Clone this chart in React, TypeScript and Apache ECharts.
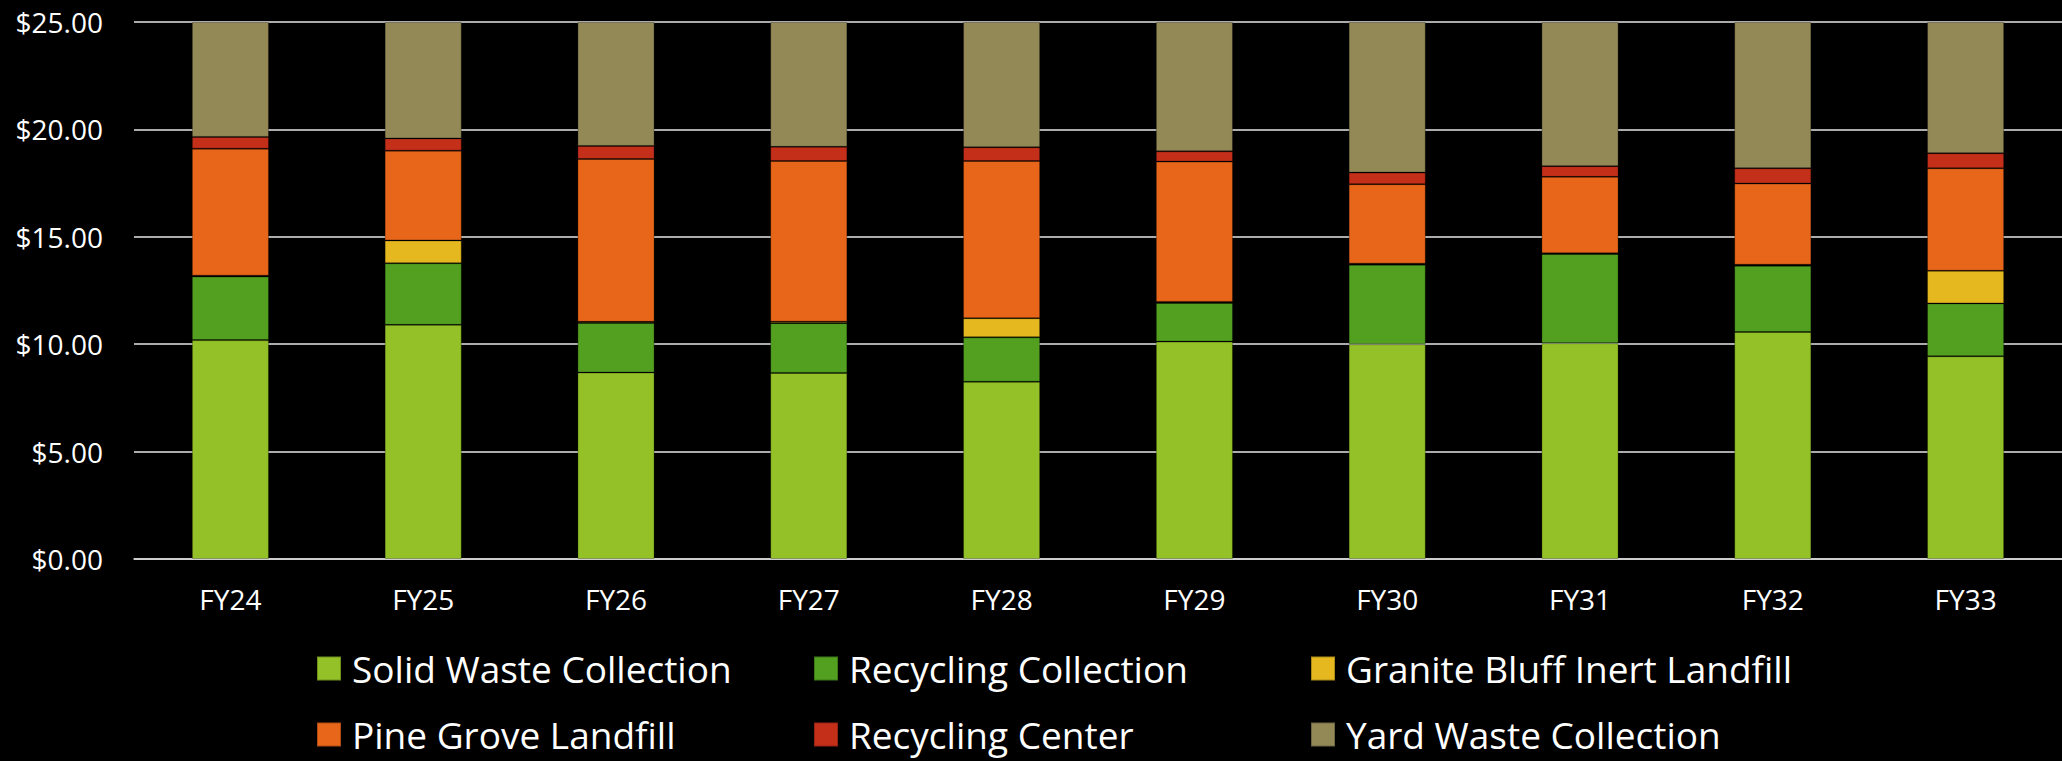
import React, { useEffect, useRef } from "react";
import * as echarts from "echarts";

// Fiscal years on the category axis
const categories = ["FY24", "FY25", "FY26", "FY27", "FY28", "FY29", "FY30", "FY31", "FY32", "FY33"];

// Monthly rate components ($) per fiscal year, stacked bottom to top
const solidWaste = [10.19, 10.9, 8.68, 8.66, 8.25, 10.12, 10.0, 10.05, 10.57, 9.44];
const recyclingCollection = [2.96, 2.87, 2.31, 2.32, 2.07, 1.8, 3.7, 4.15, 3.08, 2.46];
const graniteBluff = [0.04, 1.06, 0.05, 0.07, 0.89, 0.05, 0.05, 0.03, 0.05, 1.52];
const pineGrove = [5.91, 4.18, 7.58, 7.48, 7.32, 6.53, 3.7, 3.56, 3.78, 4.77];
const recyclingCenter = [0.55, 0.57, 0.61, 0.66, 0.64, 0.48, 0.54, 0.5, 0.71, 0.7];
const yardWaste = [5.35, 5.42, 5.77, 5.81, 5.83, 6.02, 7.01, 6.71, 6.81, 6.11];

// Value-axis ticks
const yTicks = [0, 5, 10, 15, 20, 25];

const seriesDefs = [
  { name: "Solid Waste Collection", data: solidWaste, color: "#93c127" },
  { name: "Recycling Collection", data: recyclingCollection, color: "#53a021" },
  { name: "Granite Bluff Inert Landfill", data: graniteBluff, color: "#e4b81e" },
  { name: "Pine Grove Landfill", data: pineGrove, color: "#e86619" },
  { name: "Recycling Center", data: recyclingCenter, color: "#c42f1a" },
  { name: "Yard Waste Collection", data: yardWaste, color: "#938957" },
];

const FONT = "'Open Sans', 'Noto Sans', sans-serif";

export default function App() {
  const ref = useRef<HTMLDivElement>(null);

  useEffect(() => {
    if (!ref.current) return;
    const chart = echarts.init(ref.current, null, { renderer: "svg" });

    const legendText = {
      color: "#ffffff",
      fontSize: 37,
      fontFamily: FONT,
      lineHeight: 36,
      padding: [0, 0, 0, 6],
    };
    // Each legend column holds two entries stacked vertically
    const legendBase = {
      orient: "vertical" as const,
      top: 650,
      height: 105,
      padding: 0,
      itemWidth: 24,
      itemHeight: 24,
      itemGap: 29,
      icon: "rect",
      textStyle: legendText,
      selectedMode: false,
    };

    chart.setOption({
      animation: false,
      backgroundColor: "#000000",
      grid: { left: 134, right: -6, top: 22, bottom: 202, containLabel: false },
      legend: [
        { ...legendBase, left: 316, data: [seriesDefs[0].name, seriesDefs[3].name] },
        { ...legendBase, left: 813, data: [seriesDefs[1].name, seriesDefs[4].name] },
        { ...legendBase, left: 1310, data: [seriesDefs[2].name, seriesDefs[5].name] },
      ],
      xAxis: {
        type: "category",
        data: categories,
        axisLine: { show: true, lineStyle: { color: "#d9d9d9", width: 1.5 } },
        axisTick: { show: false },
        axisLabel: {
          color: "#ffffff",
          fontSize: 28,
          fontFamily: FONT,
          margin: 26,
        },
      },
      yAxis: {
        type: "value",
        min: yTicks[0],
        max: yTicks[yTicks.length - 1],
        interval: yTicks[1] - yTicks[0],
        axisLine: { show: false },
        axisTick: { show: false },
        splitLine: { lineStyle: { color: "#e6e6e6", width: 1.5 } },
        axisLabel: {
          color: "#ffffff",
          fontSize: 28,
          fontFamily: FONT,
          margin: 31,
          formatter: (v: number) => "$" + v.toFixed(2),
        },
      },
      series: seriesDefs.map((s) => ({
        name: s.name,
        type: "bar",
        stack: "total",
        barWidth: "40%",
        data: s.data,
        itemStyle: {
          color: s.color,
          borderColor: "rgba(0,0,0,0.25)",
          borderWidth: 1,
        },
        emphasis: { disabled: true },
      })),
    });

    return () => chart.dispose();
  }, []);

  return (
    <div
      ref={ref}
      style={{
        position: "fixed",
        left: 0,
        top: 0,
        width: 2062,
        height: 761,
        background: "#000000",
      }}
    />
  );
}
